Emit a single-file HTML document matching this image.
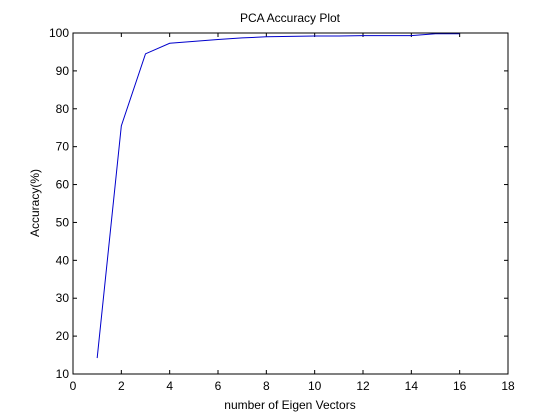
<!DOCTYPE html>
<html><head><meta charset="utf-8"><style>
body{margin:0;background:#fff;}
svg{display:block;font-family:"Liberation Sans",Arial,sans-serif;}
</style></head><body>
<svg id="chart" width="560" height="420">
<rect x="0" y="0" width="560" height="420" fill="#fff"/>
<text x="290" y="22" font-size="12" text-anchor="middle">PCA Accuracy Plot</text>
<text x="290" y="409" font-size="12" text-anchor="middle">number of Eigen Vectors</text>
<text x="39" y="203" font-size="12" text-anchor="middle" transform="rotate(-90 39 203)">Accuracy(%)</text>
<g id="ticks"></g>
<path id="line" fill="none" stroke="#0000cc" stroke-width="1"/>
<rect x="73" y="33" width="435" height="341" fill="none" stroke="#000" stroke-width="1"/>
</svg>
<script>
const xValues=[1,2,3,4,5,6,7,8,9,10,11,12,13,14,15,16];
const accuracy=[14.2,75.5,94.5,97.3,97.8,98.3,98.7,99,99.1,99.2,99.2,99.3,99.3,99.3,99.8,99.8];
const xTicks=[0,2,4,6,8,10,12,14,16,18];
const yTicks=[10,20,30,40,50,60,70,80,90,100];
const L=73,R=508,T=33,B=374;
const sx=v=>L+(v-0)/(18-0)*(R-L);
const sy=v=>B-(v-10)/(100-10)*(B-T);
const ns="http://www.w3.org/2000/svg";
const g=document.getElementById('ticks');
function mk(tag,attrs){const e=document.createElementNS(ns,tag);for(const k in attrs)e.setAttribute(k,attrs[k]);g.appendChild(e);return e;}
xTicks.forEach(v=>{
  const x=sx(v);
  const t1=mk('line',{x1:x,x2:x,y1:B,y2:B-4,stroke:'#000'});
  
  
  const t2=mk('line',{x1:x,x2:x,y1:T,y2:T+4,stroke:'#000'});
  
  
  const lb=mk('text',{x:x,y:B+16,'font-size':12,'text-anchor':'middle'});
  lb.textContent=v;
  
  
});
yTicks.forEach(v=>{
  const y=sy(v);
  const t1=mk('line',{x1:L,x2:L+4,y1:y,y2:y,stroke:'#000'});
  
  
  const t2=mk('line',{x1:R,x2:R-4,y1:y,y2:y,stroke:'#000'});
  
  
  const lb=mk('text',{x:L-4,y:y+4,'font-size':12,'text-anchor':'end'});
  lb.textContent=v;
  
  
});
document.getElementById('line').setAttribute('d',xValues.map((x,i)=>(i?'L':'M')+sx(x)+' '+sy(accuracy[i])).join(' '));
</script>
</body></html>
